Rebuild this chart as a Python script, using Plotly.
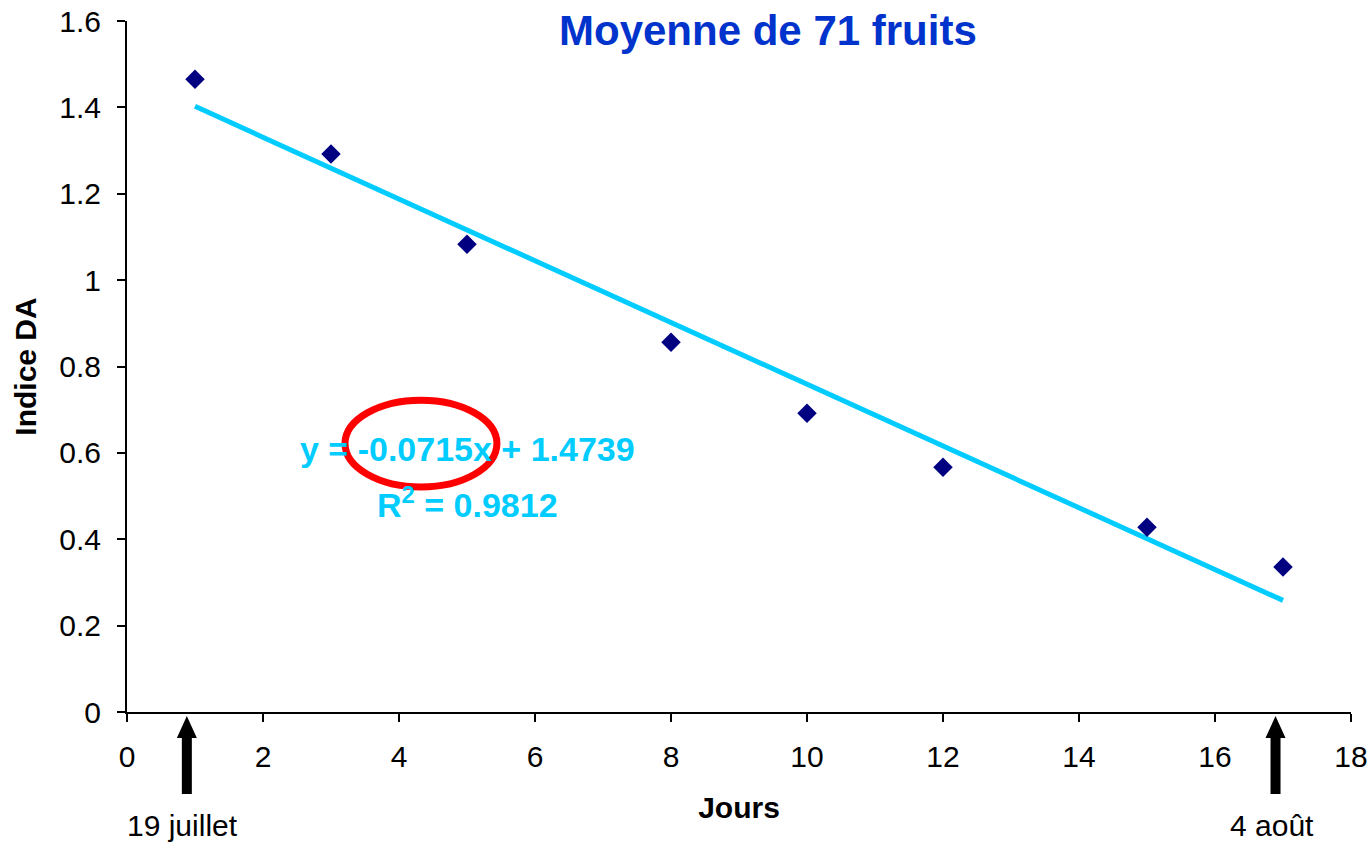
import plotly.graph_objects as go

# ---- data ----
days = [1, 3, 5, 8, 10, 12, 15, 17]
indice_da = [1.465, 1.292, 1.083, 0.856, 0.692, 0.567, 0.428, 0.336]

trend_slope = -0.0715
trend_intercept = 1.4739
trend_r2 = 0.9812
trend_x = [days[0], days[-1]]
trend_y = [trend_slope * x + trend_intercept for x in trend_x]

x_ticks = [0, 2, 4, 6, 8, 10, 12, 14, 16, 18]
y_ticks = [0, 0.2, 0.4, 0.6, 0.8, 1.0, 1.2, 1.4, 1.6]
y_tick_labels = ["0", "0.2", "0.4", "0.6", "0.8", "1", "1.2", "1.4", "1.6"]

title_text = "Moyenne de 71 fruits"
x_title = "Jours"
y_title = "Indice DA"
date_labels = ["19 juillet", "4 août"]

FONT = "Arial, 'Liberation Sans', sans-serif"
NAVY = "#000080"
CYAN = "#00CCFF"
TITLE_BLUE = "#0033CC"

fig = go.Figure()

fig.add_trace(go.Scatter(
    x=trend_x, y=trend_y, mode="lines",
    line=dict(color=CYAN, width=5),
    hoverinfo="skip", showlegend=False,
))
fig.add_trace(go.Scatter(
    x=days, y=indice_da, mode="markers",
    marker=dict(symbol="diamond", size=15, color=NAVY),
    showlegend=False,
))

axis_common = dict(
    showline=True, linecolor="black", linewidth=2,
    ticks="outside", ticklen=8, tickwidth=2, tickcolor="black",
    showgrid=False, zeroline=False, automargin=False,
    tickfont=dict(family=FONT, size=30, color="black"),
)

fig.update_xaxes(
    range=[0, 18], tickvals=x_ticks, ticktext=[str(v) for v in x_ticks],
    ticklabelstandoff=9,
    title=dict(text=f"<b>{x_title}</b>", font=dict(family=FONT, size=30, color="black"), standoff=25),
    **axis_common,
)
fig.update_yaxes(
    range=[0, 1.6], tickvals=y_ticks, ticktext=y_tick_labels,
    ticklabelstandoff=10,
    title=dict(text=f"<b>{y_title}</b>", font=dict(family=FONT, size=30, color="black"), standoff=14),
    **axis_common,
)

annotations = [
    dict(text=f"<b>{title_text}</b>", xref="paper", yref="paper", x=0.5237, y=1,
         yshift=-9, xanchor="center", yanchor="middle", showarrow=False,
         font=dict(family=FONT, size=42, color=TITLE_BLUE)),
    dict(text=f"<b>y = {trend_slope}x + {trend_intercept}</b>", xref="x", yref="y",
         x=5.0, y=0.609, xanchor="center", yanchor="middle", showarrow=False,
         font=dict(family=FONT, size=34, color=CYAN)),
    dict(text=f"<b>R<sup>2</sup> = {trend_r2}</b>", xref="x", yref="y",
         x=5.0, y=0.486, xanchor="center", yanchor="middle", showarrow=False,
         font=dict(family=FONT, size=34, color=CYAN)),
    dict(text=date_labels[0], xref="x", yref="paper", x=0.81, y=0, yshift=-113,
         xanchor="center", yanchor="middle", showarrow=False,
         font=dict(family=FONT, size=30, color="black")),
    dict(text=date_labels[1], xref="x", yref="paper", x=16.84, y=0, yshift=-113,
         xanchor="center", yanchor="middle", showarrow=False,
         font=dict(family=FONT, size=30, color="black")),
]

arrow_path = "M-5,-82 L5,-82 L5,-26 L10,-26 L0,-4 L-10,-26 L-5,-26 Z"
shapes = [
    dict(type="circle", xref="x", yref="y", x0=3.206, x1=5.44, y0=0.521, y1=0.722,
         line=dict(color="#FF0000", width=7), layer="above"),
    dict(type="path", xref="x", xsizemode="pixel", xanchor=0.88,
         yref="paper", ysizemode="pixel", yanchor=0, path=arrow_path,
         fillcolor="black", line=dict(width=0), layer="above"),
    dict(type="path", xref="x", xsizemode="pixel", xanchor=16.89,
         yref="paper", ysizemode="pixel", yanchor=0, path=arrow_path,
         fillcolor="black", line=dict(width=0), layer="above"),
]

fig.update_layout(
    width=1371, height=842,
    margin=dict(l=127, r=20, t=21, b=130),
    paper_bgcolor="white", plot_bgcolor="white",
    annotations=annotations, shapes=shapes,
    showlegend=False,
)

fig.write_html("out.html", config={"displayModeBar": False},
               post_script="document.body.style.margin='0';document.body.style.overflow='hidden';")
